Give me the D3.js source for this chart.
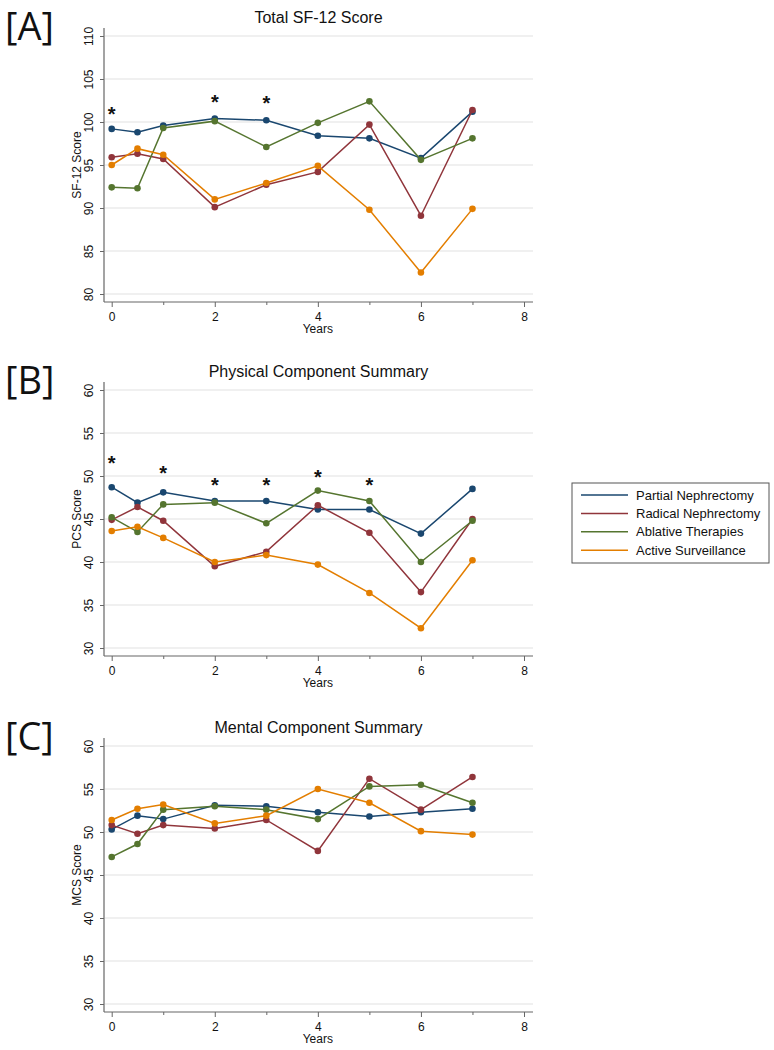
<!DOCTYPE html>
<html>
<head>
<meta charset="utf-8">
<script src="https://cdn.jsdelivr.net/npm/d3@7"></script>
<style>
  body { margin: 0; background: #fff; }
  svg { display: block; font-family: "Liberation Sans", Arial, sans-serif; }
</style>
</head>
<body>
<svg id="chart" width="774" height="1050"></svg>
<script>
(function() {
  'use strict';

  // follow-up times (years)
  var years = [0, 0.5, 1, 2, 3, 4, 5, 6, 7];

  var groups = ['Partial Nephrectomy', 'Radical Nephrectomy', 'Ablative Therapies', 'Active Surveillance'];
  var groupColors = ['#1a476f', '#90353b', '#55752f', '#e37e00'];

  // [A] total SF-12
  var sf12Partial = [99.2, 98.8, 99.6, 100.4, 100.2, 98.4, 98.1, 95.8, 101.2];
  var sf12Radical = [95.9, 96.3, 95.7, 90.1, 92.7, 94.2, 99.7, 89.1, 101.4];
  var sf12Ablative = [92.4, 92.3, 99.3, 100.1, 97.1, 99.9, 102.4, 95.6, 98.1];
  var sf12Active = [95.0, 96.9, 96.2, 91.0, 92.9, 94.9, 89.8, 82.5, 89.9];
  var sf12Stars = [[0, 101.5], [2, 102.9], [3, 102.7]];

  // [B] physical component summary
  var pcsPartial = [48.7, 46.9, 48.1, 47.1, 47.1, 46.1, 46.1, 43.3, 48.5];
  var pcsRadical = [44.9, 46.4, 44.8, 39.5, 41.2, 46.6, 43.4, 36.5, 45.0];
  var pcsAblative = [45.2, 43.5, 46.7, 46.9, 44.5, 48.3, 47.1, 40.0, 44.8];
  var pcsActive = [43.6, 44.1, 42.8, 40.0, 40.8, 39.7, 36.4, 32.3, 40.2];
  var pcsStars = [[0, 52.0], [1, 50.9], [2, 49.45], [3, 49.45], [4, 50.4], [5, 49.45]];

  // [C] mental component summary
  var mcsPartial = [50.3, 51.9, 51.5, 53.1, 53.0, 52.3, 51.8, 52.3, 52.7];
  var mcsRadical = [50.8, 49.8, 50.8, 50.4, 51.4, 47.8, 56.2, 52.6, 56.4];
  var mcsAblative = [47.1, 48.6, 52.6, 53.0, 52.6, 51.5, 55.3, 55.5, 53.4];
  var mcsActive = [51.4, 52.7, 53.2, 51.0, 51.9, 55.0, 53.4, 50.1, 49.7];
  var mcsStars = [];

  var xMajor = [0, 2, 4, 6, 8];
  var xMinor = [1, 3, 5, 7];

  var panels = [
    { tag: '[A]', title: 'Total SF-12 Score', yLabel: 'SF-12 Score', yTicks: [80, 85, 90, 95, 100, 105, 110],
      series: [sf12Partial, sf12Radical, sf12Ablative, sf12Active], stars: sf12Stars, top: 36 },
    { tag: '[B]', title: 'Physical Component Summary', yLabel: 'PCS Score', yTicks: [30, 35, 40, 45, 50, 55, 60],
      series: [pcsPartial, pcsRadical, pcsAblative, pcsActive], stars: pcsStars, top: 390 },
    { tag: '[C]', title: 'Mental Component Summary', yLabel: 'MCS Score', yTicks: [30, 35, 40, 45, 50, 55, 60],
      series: [mcsPartial, mcsRadical, mcsAblative, mcsActive], stars: mcsStars, top: 746 }
  ];

  var plotLeft = 104, plotRight = 533;
  var plotH = 258, pad = 8;
  var axisColor = '#666';
  var gridColor = '#ebebeb';

  var svg = d3.select('#chart');

  var x = d3.scaleLinear().domain([0, 8]).range([111.7, 524]);

  panels.forEach(function(p) {
    var y = d3.scaleLinear()
      .domain(d3.extent(p.yTicks))
      .range([p.top + plotH, p.top]);
    var axisY = p.top + plotH + pad;
    var g = svg.append('g').attr('class', 'panel');

    // panel tag
    g.append('text')
      .attr('x', 5)
      .attr('y', p.top + 4)
      .style('font-family', '"Open Sans", "Noto Sans", sans-serif')
      .style('font-size', '38px')
      .attr('fill', '#111')
      .text(p.tag);

    // title
    g.append('text')
      .attr('x', (plotLeft + plotRight) / 2)
      .attr('y', p.top - 13)
      .attr('text-anchor', 'middle')
      .style('font-size', '16px')
      .attr('fill', '#111')
      .text(p.title);

    // gridlines
    g.append('g').selectAll('line')
      .data(p.yTicks)
      .enter().append('line')
      .attr('x1', plotLeft + 1)
      .attr('x2', plotRight)
      .attr('y1', function(d) { return y(d); })
      .attr('y2', function(d) { return y(d); })
      .attr('stroke', gridColor)
      .attr('stroke-width', 1.3);

    // y axis
    var yAxis = g.append('g')
      .attr('transform', 'translate(' + plotLeft + ',0)')
      .call(d3.axisLeft(y).tickValues(p.yTicks).tickSize(4).tickSizeOuter(0));
    yAxis.select('.domain').remove();
    yAxis.selectAll('.tick line').attr('stroke', axisColor);
    yAxis.selectAll('.tick text')
      .attr('transform', 'rotate(-90)')
      .attr('x', 0)
      .attr('y', -11.5)
      .attr('dy', null)
      .attr('text-anchor', 'middle')
      .attr('fill', '#111')
      .style('font-size', '12px')
      .style('font-family', '"Liberation Sans", Arial, sans-serif');
    g.append('line')
      .attr('x1', plotLeft).attr('x2', plotLeft)
      .attr('y1', p.top - pad).attr('y2', axisY)
      .attr('stroke', axisColor).attr('stroke-width', 1.2);

    g.append('text')
      .attr('transform', 'translate(81,' + (p.top + plotH / 2) + ') rotate(-90)')
      .attr('text-anchor', 'middle')
      .style('font-size', '12px')
      .attr('fill', '#111')
      .text(p.yLabel);

    // x axis
    var xAxis = g.append('g')
      .attr('transform', 'translate(0,' + axisY + ')')
      .call(d3.axisBottom(x).tickValues(xMajor).tickSize(5).tickPadding(5).tickSizeOuter(0));
    xAxis.select('.domain').remove();
    xAxis.selectAll('.tick line').attr('stroke', axisColor);
    xAxis.selectAll('.tick text')
      .attr('fill', '#111')
      .style('font-size', '12px')
      .style('font-family', '"Liberation Sans", Arial, sans-serif');
    var xMinorAxis = g.append('g')
      .attr('transform', 'translate(0,' + axisY + ')')
      .call(d3.axisBottom(x).tickValues(xMinor).tickSize(3).tickFormat(''));
    xMinorAxis.select('.domain').remove();
    xMinorAxis.selectAll('.tick line').attr('stroke', axisColor);
    g.append('line')
      .attr('x1', plotLeft).attr('x2', plotRight)
      .attr('y1', axisY).attr('y2', axisY)
      .attr('stroke', axisColor).attr('stroke-width', 1.2);

    g.append('text')
      .attr('x', x(4))
      .attr('y', axisY + 31)
      .attr('text-anchor', 'middle')
      .style('font-size', '12px')
      .attr('fill', '#111')
      .text('Years');

    // series
    var line = d3.line()
      .x(function(d, i) { return x(years[i]); })
      .y(function(d) { return y(d); });

    p.series.forEach(function(vals, s) {
      var sg = g.append('g').attr('class', 'series' + s);
      sg.append('path')
        .datum(vals)
        .attr('d', line)
        .attr('fill', 'none')
        .attr('stroke', groupColors[s])
        .attr('stroke-width', 1.5);
      sg.selectAll('circle')
        .data(vals)
        .enter().append('circle')
        .attr('cx', function(d, i) { return x(years[i]); })
        .attr('cy', function(d) { return y(d); })
        .attr('r', 3.3)
        .attr('fill', groupColors[s]);
    });

    // significance markers
    g.selectAll('text.star')
      .data(p.stars)
      .enter().append('text')
      .attr('class', 'star')
      .attr('x', function(d) { return x(d[0]); })
      .attr('y', function(d) { return y(d[1]) + 11.5; })
      .attr('text-anchor', 'middle')
      .style('font-size', '20px')
      .style('font-weight', 'bold')
      .attr('fill', '#111')
      .text('*');
  });

  // legend
  var legend = svg.append('g').attr('transform', 'translate(572,483)');
  legend.append('rect')
    .attr('width', 197)
    .attr('height', 80)
    .attr('fill', '#fff')
    .attr('stroke', '#555')
    .attr('stroke-width', 1);
  var rows = legend.selectAll('g.row')
    .data(groups)
    .enter().append('g')
    .attr('class', 'row')
    .attr('transform', function(d, i) { return 'translate(0,' + (12 + i * 18.4) + ')'; });
  rows.append('line')
    .attr('x1', 9).attr('x2', 56)
    .attr('stroke', function(d, i) { return groupColors[i]; })
    .attr('stroke-width', 1.5);
  rows.append('text')
    .attr('x', 64)
    .attr('dy', '0.35em')
    .style('font-size', '13px')
    .attr('fill', '#111')
    .text(function(d) { return d; });
}).call(this);
</script>
</body>
</html>
